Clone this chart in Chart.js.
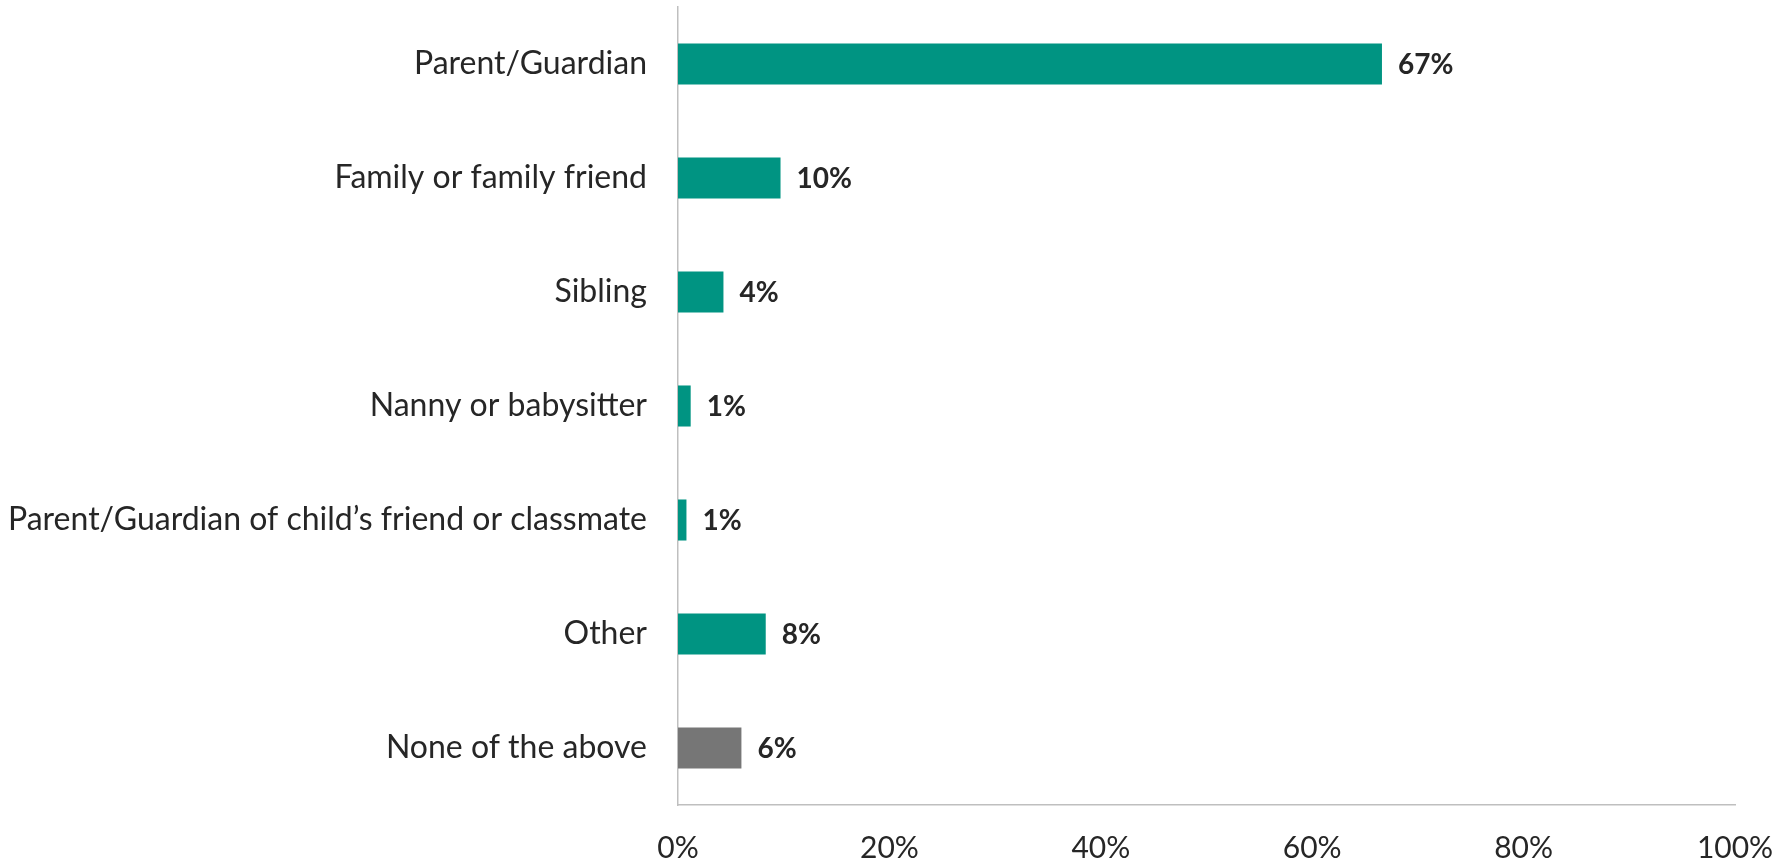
<!DOCTYPE html>
<html>
<head>
<meta charset="utf-8">
<style>
  html, body { margin: 0; padding: 0; background: #ffffff; }
  #wrap { width: 1791px; height: 864px; }
</style>
<script src="https://cdn.jsdelivr.net/npm/chart.js@4.4.1/dist/chart.umd.min.js"></script>
</head>
<body>
<div id="wrap"><canvas id="chart" width="1791" height="864"></canvas></div>
<script>
const categories = [
  "Parent/Guardian",
  "Family or family friend",
  "Sibling",
  "Nanny or babysitter",
  "Parent/Guardian of child\u2019s friend or classmate",
  "Other",
  "None of the above"
];
const shares = [66.6, 9.7, 4.3, 1.2, 0.8, 8.3, 6.0];
const barColors = ["#009482", "#009482", "#009482", "#009482", "#009482", "#009482", "#767676"];
const xTicks = [0, 20, 40, 60, 80, 100];

const FONT = "Lato, 'Noto Sans', sans-serif";
const TEXT = "#262626";
const AXIS = "#bfbfbf";

// Writes the rounded percentage just past the end of each bar
const valueLabels = {
  id: "valueLabels",
  afterDatasetsDraw(chart) {
    const ctx = chart.ctx;
    const meta = chart.getDatasetMeta(0);
    ctx.save();
    ctx.font = "bold 28px " + FONT;
    ctx.fillStyle = TEXT;
    ctx.textAlign = "left";
    ctx.textBaseline = "middle";
    meta.data.forEach((bar, i) => {
      const v = chart.data.datasets[0].data[i];
      ctx.fillText(Math.round(v) + "%", bar.x + 16, bar.y + 1);
    });
    ctx.restore();
  }
};

new Chart(document.getElementById("chart"), {
  type: "bar",
  data: {
    labels: categories,
    datasets: [{
      data: shares,
      backgroundColor: barColors,
      borderWidth: 0,
      barPercentage: 0.36,
      categoryPercentage: 1.0
    }]
  },
  options: {
    indexAxis: "y",
    responsive: false,
    animation: false,
    devicePixelRatio: 1,
    layout: { padding: { top: 7, right: 56, bottom: 0, left: 0 } },
    plugins: {
      legend: { display: false },
      tooltip: { enabled: false }
    },
    scales: {
      x: {
        min: 0,
        max: 100,
        afterBuildTicks(scale) { scale.ticks = xTicks.map(v => ({ value: v })); },
        afterFit(scale) {
          scale.height = 59;
          scale.paddingLeft = 0;
          scale.paddingRight = 0;
        },
        grid: { display: false, drawTicks: false },
        border: { display: true, color: AXIS, width: 1.5 },
        ticks: {
          padding: 25,
          color: TEXT,
          font: { family: FONT, size: 30 },
          callback: v => v + "%",
          maxRotation: 0
        }
      },
      y: {
        afterFit(scale) {
          scale.width = 678;
          scale.paddingTop = 0;
          scale.paddingBottom = 0;
        },
        grid: { display: false, drawTicks: false },
        border: { display: true, color: AXIS, width: 1.5 },
        ticks: {
          padding: 31,
          color: TEXT,
          font: { family: FONT, size: 32 },
          autoSkip: false
        }
      }
    }
  },
  plugins: [valueLabels]
});
</script>
</body>
</html>
